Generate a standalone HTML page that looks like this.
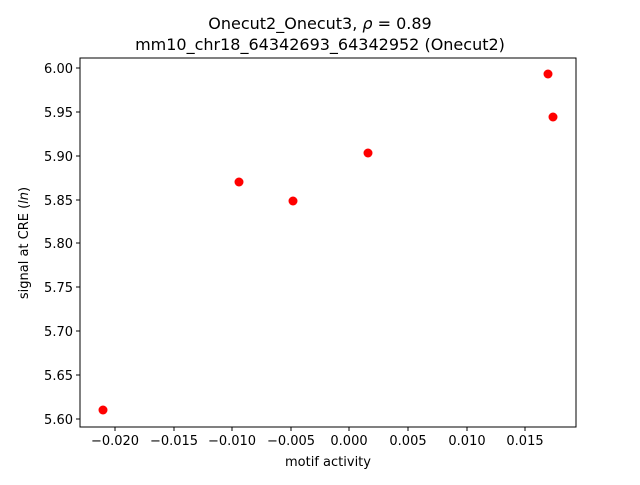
<!DOCTYPE html>
<html><head><meta charset="utf-8"><style>
body{margin:0;background:#fff}
svg text{font-family:"DejaVu Sans","Liberation Sans",sans-serif;fill:#000}
</style></head><body>
<svg width="640" height="480" xmlns="http://www.w3.org/2000/svg">
<rect width="640" height="480" fill="#fff"/>
<text x="320" y="29" font-size="16" text-anchor="middle">Onecut2_Onecut3, <tspan font-style="italic">ρ</tspan> = 0.89</text>
<text x="320" y="50" font-size="16" text-anchor="middle">mm10_chr18_64342693_64342952 (Onecut2)</text>
<rect x="80" y="58" width="496" height="369" fill="none" stroke="#000" stroke-width="1"/>
<g stroke="#000" stroke-width="1">
<line x1="115" y1="427" x2="115" y2="431"/><line x1="174" y1="427" x2="174" y2="431"/><line x1="232" y1="427" x2="232" y2="431"/><line x1="291" y1="427" x2="291" y2="431"/><line x1="349" y1="427" x2="349" y2="431"/><line x1="408" y1="427" x2="408" y2="431"/><line x1="467" y1="427" x2="467" y2="431"/><line x1="525" y1="427" x2="525" y2="431"/>
<line x1="76" y1="68" x2="80" y2="68"/><line x1="76" y1="112" x2="80" y2="112"/><line x1="76" y1="156" x2="80" y2="156"/><line x1="76" y1="200" x2="80" y2="200"/><line x1="76" y1="243" x2="80" y2="243"/><line x1="76" y1="287" x2="80" y2="287"/><line x1="76" y1="331" x2="80" y2="331"/><line x1="76" y1="375" x2="80" y2="375"/><line x1="76" y1="419" x2="80" y2="419"/>
</g>
<g font-size="13" text-anchor="middle">
<text x="115" y="445">−0.020</text><text x="174" y="445">−0.015</text><text x="232" y="445">−0.010</text><text x="291" y="445">−0.005</text><text x="349" y="445">0.000</text><text x="408" y="445">0.005</text><text x="467" y="445">0.010</text><text x="525" y="445">0.015</text>
</g>
<g font-size="13" text-anchor="end">
<text x="73" y="73">6.00</text><text x="73" y="117">5.95</text><text x="73" y="161">5.90</text><text x="73" y="205">5.85</text><text x="73" y="248">5.80</text><text x="73" y="292">5.75</text><text x="73" y="336">5.70</text><text x="73" y="380">5.65</text><text x="73" y="424">5.60</text>
</g>
<text x="328" y="466" font-size="13" text-anchor="middle">motif activity</text>
<text transform="translate(28,243) rotate(-90)" font-size="13" text-anchor="middle">signal at CRE (<tspan font-style="italic">ln</tspan>)</text>
<g fill="#ff0000">
<circle cx="103" cy="410" r="4.5"/><circle cx="239" cy="182" r="4.5"/><circle cx="293" cy="201" r="4.5"/><circle cx="368" cy="153" r="4.5"/><circle cx="548" cy="74" r="4.5"/><circle cx="553" cy="117" r="4.5"/>
</g>
</svg>
</body></html>
